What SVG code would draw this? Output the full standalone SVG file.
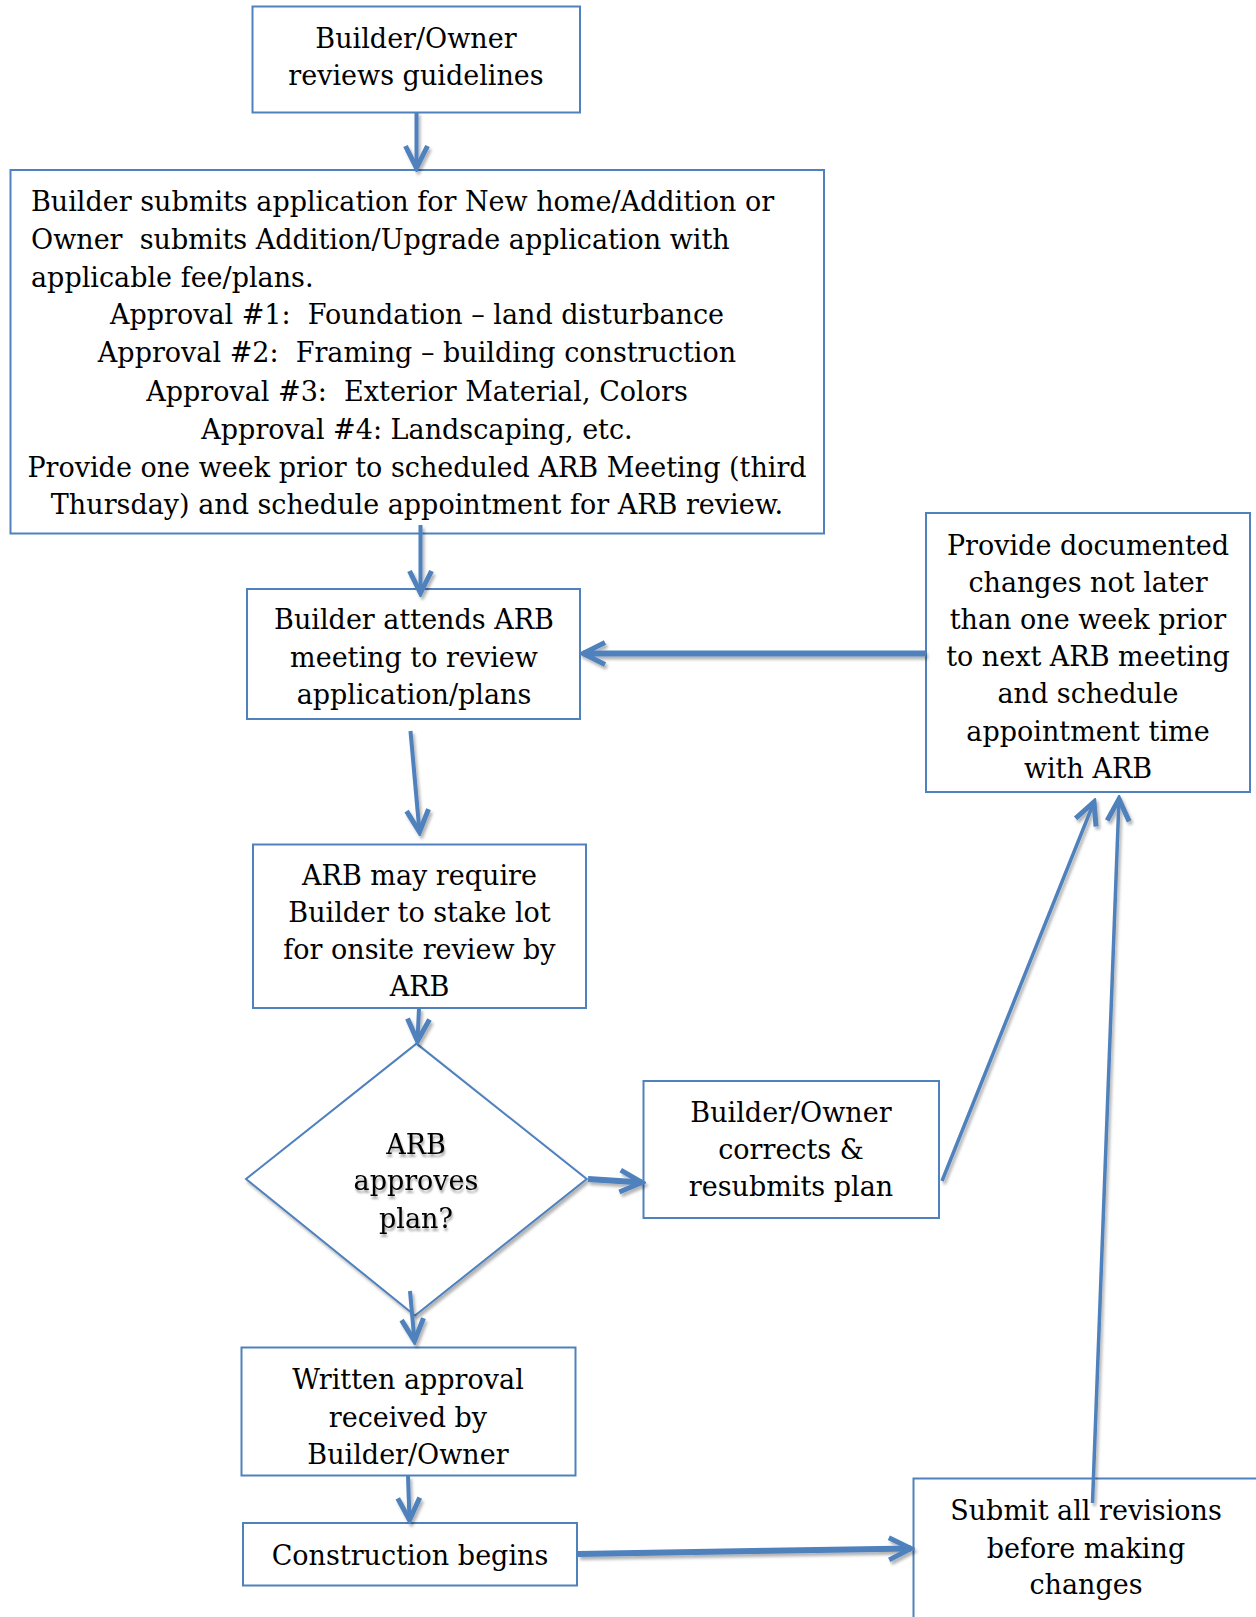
<svg xmlns="http://www.w3.org/2000/svg" width="1256" height="1617" viewBox="0 0 1256 1617">
<style>
.box{fill:#fff;stroke:#4f81bd;stroke-width:2}
.t{font-family:"DejaVu Serif","Liberation Serif",serif;font-size:27px;fill:#000}
.c{text-anchor:middle}
.conn{fill:none;stroke:#4f81bd;stroke-linecap:butt}
.thin{stroke-width:4}
.thk{stroke-width:6}
.hair{stroke-width:3.5}
</style>
<defs>
<filter id="sh" x="-20%" y="-20%" width="140%" height="140%">
<feDropShadow dx="2" dy="3" stdDeviation="1.5" flood-color="#000" flood-opacity="0.3"/>
</filter>
<filter id="tsh" x="-20%" y="-20%" width="140%" height="140%">
<feDropShadow dx="1" dy="3" stdDeviation="1.2" flood-color="#000" flood-opacity="0.35"/>
</filter>
<marker id="ah" markerUnits="userSpaceOnUse" viewBox="-30 -16 34 32" refX="0" refY="0" markerWidth="34" markerHeight="32" orient="auto">
<path d="M-22,-11 L0,0 L-22,11" fill="none" stroke="#4f81bd" stroke-width="5" stroke-linejoin="miter"/>
</marker>
</defs>
<rect width="1256" height="1617" fill="#fff"/>

<g id="n1">
<rect class="box" x="252.5" y="6.5" width="327.5" height="106"/>
<text class="t c" x="416" y="48">Builder/Owner</text>
<text class="t c" x="416" y="84.5">reviews guidelines</text>
</g>

<g id="n2">
<rect class="box" x="10.5" y="170" width="813.5" height="363.5"/>
<text class="t" x="31" y="211">Builder submits application for New home/Addition or</text>
<text class="t" x="31" y="249" xml:space="preserve">Owner  submits Addition/Upgrade application with</text>
<text class="t" x="31" y="287">applicable fee/plans.</text>
<text class="t c" x="417" y="324" xml:space="preserve">Approval #1:  Foundation – land disturbance</text>
<text class="t c" x="417" y="362" xml:space="preserve">Approval #2:  Framing – building construction</text>
<text class="t c" x="417" y="400.5" xml:space="preserve">Approval #3:  Exterior Material, Colors</text>
<text class="t c" x="417" y="438.5">Approval #4: Landscaping, etc.</text>
<text class="t c" x="417" y="476.5">Provide one week prior to scheduled ARB Meeting (third</text>
<text class="t c" x="417" y="514">Thursday) and schedule appointment for ARB review.</text>
</g>

<g id="n3">
<rect class="box" x="247" y="589" width="333" height="130"/>
<text class="t c" x="414" y="629">Builder attends ARB</text>
<text class="t c" x="414" y="666.5">meeting to review</text>
<text class="t c" x="414" y="703.5">application/plans</text>
</g>

<g id="n4">
<rect class="box" x="926" y="513" width="324" height="279"/>
<text class="t c" x="1088" y="555">Provide documented</text>
<text class="t c" x="1088" y="592">changes not later</text>
<text class="t c" x="1088" y="628.5">than one week prior</text>
<text class="t c" x="1088" y="665.5">to next ARB meeting</text>
<text class="t c" x="1088" y="703">and schedule</text>
<text class="t c" x="1088" y="740.5">appointment time</text>
<text class="t c" x="1088" y="778">with ARB</text>
</g>

<g id="n5">
<rect class="box" x="253" y="844.5" width="333" height="163.5"/>
<text class="t c" x="419.5" y="885">ARB may require</text>
<text class="t c" x="419.5" y="922">Builder to stake lot</text>
<text class="t c" x="419.5" y="959">for onsite review by</text>
<text class="t c" x="419.5" y="996">ARB</text>
</g>

<g id="n6">
<polygon points="416.5,1043.6 586.7,1179 415,1315.5 246,1179" fill="#fff" stroke="#4f81bd" stroke-width="2" filter="url(#sh)"/>
<g filter="url(#tsh)">
<text class="t c" x="416" y="1154">ARB</text>
<text class="t c" x="416" y="1190">approves</text>
<text class="t c" x="416" y="1228">plan?</text>
</g>
</g>

<g id="n7">
<rect class="box" x="643.5" y="1081" width="295.5" height="137"/>
<text class="t c" x="791" y="1121.5">Builder/Owner</text>
<text class="t c" x="791" y="1158.5">corrects &amp;</text>
<text class="t c" x="791" y="1196">resubmits plan</text>
</g>

<g id="n8">
<rect class="box" x="241.5" y="1347.5" width="334" height="128"/>
<text class="t c" x="408" y="1389">Written approval</text>
<text class="t c" x="408" y="1426.5">received by</text>
<text class="t c" x="408" y="1463.5">Builder/Owner</text>
</g>

<g id="n9">
<rect class="box" x="243" y="1523" width="334" height="62.5"/>
<text class="t c" x="410" y="1564.5">Construction begins</text>
</g>

<g id="n10">
<rect class="box" x="913.5" y="1478.5" width="400" height="200"/>
<text class="t c" x="1086" y="1520">Submit all revisions</text>
<text class="t c" x="1086" y="1558">before making</text>
<text class="t c" x="1086" y="1593.5">changes</text>
</g>

<g id="connectors" filter="url(#sh)">
<line class="conn thin" x1="416.5" y1="112" x2="416.5" y2="168" marker-end="url(#ah)"/>
<line class="conn thin" x1="420.5" y1="525" x2="420.5" y2="593" marker-end="url(#ah)"/>
<line class="conn thk" x1="926" y1="653.5" x2="583" y2="653.5" marker-end="url(#ah)"/>
<line class="conn thin" x1="410.5" y1="731" x2="419.5" y2="832" marker-end="url(#ah)"/>
<line class="conn thin" x1="419" y1="1008" x2="417.5" y2="1041" marker-end="url(#ah)"/>
<line class="conn thk" x1="588" y1="1179" x2="642" y2="1182.5" marker-end="url(#ah)"/>
<line class="conn hair" x1="942" y1="1181" x2="1094" y2="802" marker-end="url(#ah)"/>
<line class="conn hair" x1="1092.5" y1="1503" x2="1119" y2="799" marker-end="url(#ah)"/>
<line class="conn thin" x1="410" y1="1291" x2="414.5" y2="1341" marker-end="url(#ah)"/>
<line class="conn thin" x1="408" y1="1476" x2="409.5" y2="1520" marker-end="url(#ah)"/>
<line class="conn thk" x1="578" y1="1554" x2="911" y2="1548.5" marker-end="url(#ah)"/>
</g>
</svg>
